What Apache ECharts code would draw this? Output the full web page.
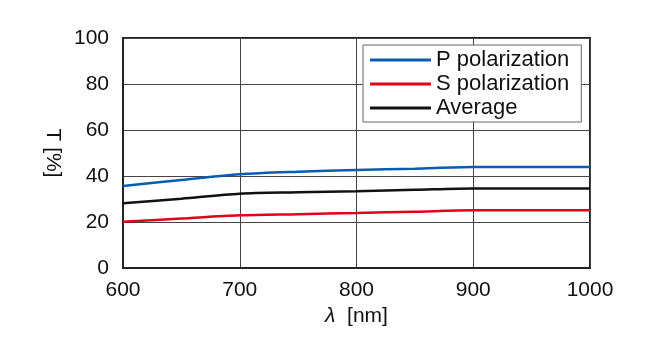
<!DOCTYPE html>
<html>
<head>
<meta charset="utf-8">
<script src="https://cdn.jsdelivr.net/npm/echarts@6/dist/echarts.min.js"></script>
<style>
  html, body { margin: 0; padding: 0; background: #fff; }
  #chart { width: 650px; height: 350px; }
</style>
</head>
<body>
<div id="chart"></div>
<script>
var wavelengths = [600, 650, 700, 750, 800, 850, 900, 950, 1000];
var pPol = [35.7, 38.3, 40.8, 41.9, 42.6, 43.2, 43.9, 43.9, 43.9];
var sPol = [20.1, 21.5, 22.9, 23.4, 23.9, 24.5, 25.1, 25.1, 25.1];
var average = [28.1, 30.1, 32.3, 32.9, 33.4, 34.0, 34.6, 34.6, 34.6];

function pairs(vals) {
    return wavelengths.map(function(w, i) { return [w, vals[i]]; });
}

var font = 'Liberation Sans, Arial, sans-serif';
var fs = 21;

var myChart = echarts.init(document.getElementById('chart'), null, {renderer: 'canvas'});

var option = {
    animation: false,
    grid: {
        left: 123, right: 60, top: 38, bottom: 82,
        show: true, borderColor: '#222', borderWidth: 2,
        containLabel: false
    },
    legend: {
        orient: 'vertical',
        left: 363, top: 45,
        icon: 'rect',
        itemWidth: 61, itemHeight: 3,
        itemGap: 2,
        padding: [4, 12, 3, 7],
        backgroundColor: '#fff',
        borderColor: '#666', borderWidth: 1,
        textStyle: {fontFamily: font, fontSize: 22, color: '#111'},
        data: ['P polarization', 'S polarization', 'Average']
    },
    xAxis: {
        type: 'value',
        min: 600, max: 1000, interval: 100,
        name: '{i|λ}  [nm]',
        nameLocation: 'middle',
        nameGap: 38,
        nameTextStyle: {
            fontFamily: font, fontSize: fs, color: '#111',
            rich: {i: {fontStyle: 'italic', fontFamily: font, fontSize: fs, color: '#111'}}
        },
        axisLine: {show: true, lineStyle: {color: '#222', width: 2}},
        axisTick: {show: false},
        axisLabel: {
            fontFamily: font, fontSize: fs, color: '#111', margin: 12,
            formatter: function(v) { return String(v); }
        },
        splitLine: {show: true, lineStyle: {color: '#444', width: 1}}
    },
    yAxis: {
        type: 'value',
        min: 0, max: 100, interval: 20,
        name: 'T [%]',
        nameLocation: 'middle',
        nameRotate: -90,
        nameGap: 60,
        nameTextStyle: {fontFamily: font, fontSize: fs, color: '#111'},
        axisLine: {show: true, lineStyle: {color: '#222', width: 2}},
        axisTick: {show: false},
        axisLabel: {fontFamily: font, fontSize: fs, color: '#111', margin: 14},
        splitLine: {show: true, lineStyle: {color: '#444', width: 1}}
    },
    series: [
        {
            name: 'P polarization', type: 'line', data: pairs(pPol),
            symbol: 'none', smooth: 0.3,
            lineStyle: {color: '#0a5cb0', width: 2.5}, itemStyle: {color: '#0a5cb0'}
        },
        {
            name: 'S polarization', type: 'line', data: pairs(sPol),
            symbol: 'none', smooth: 0.3,
            lineStyle: {color: '#e2001a', width: 2.5}, itemStyle: {color: '#e2001a'}
        },
        {
            name: 'Average', type: 'line', data: pairs(average),
            symbol: 'none', smooth: 0.3,
            lineStyle: {color: '#111', width: 2.5}, itemStyle: {color: '#111'}
        }
    ]
};

myChart.setOption(option);
</script>
</body>
</html>
